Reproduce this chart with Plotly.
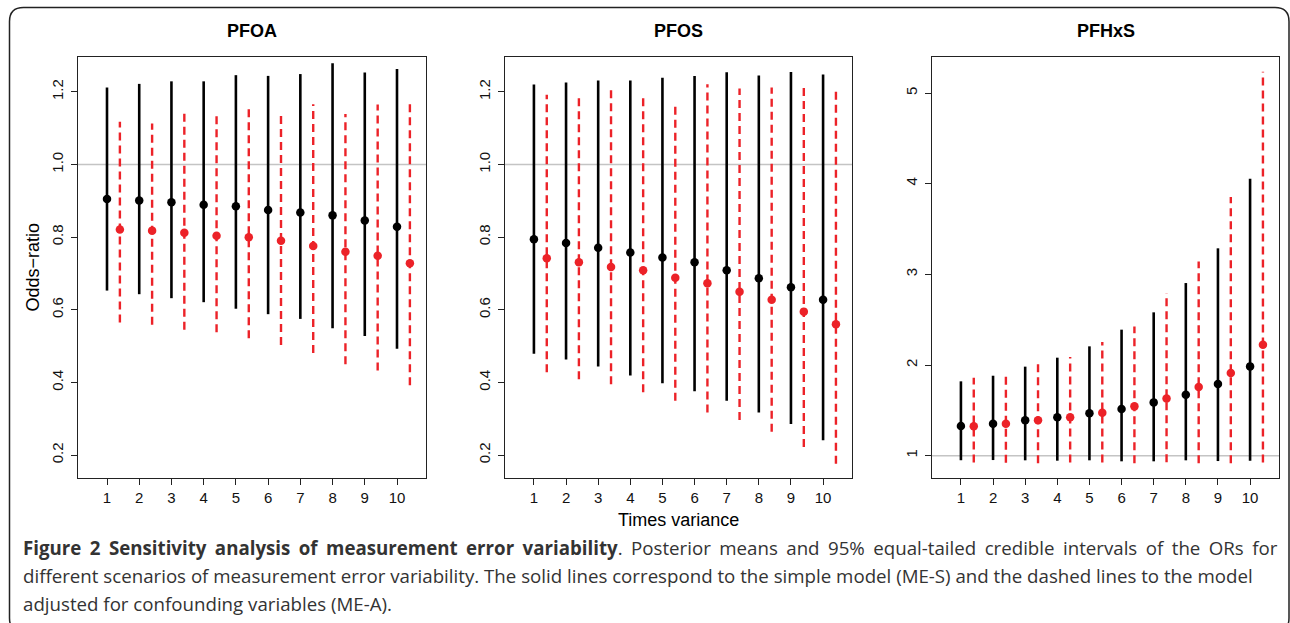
import plotly.graph_objects as go

# ---------------- data ----------------
times_variance = [1, 2, 3, 4, 5, 6, 7, 8, 9, 10]
panel_titles = ["PFOA", "PFOS", "PFHxS"]

# PFOA
pfoa_s_mean = [0.905, 0.901, 0.896, 0.889, 0.885, 0.875, 0.868, 0.860, 0.846, 0.829]
pfoa_s_low = [0.653, 0.643, 0.632, 0.621, 0.603, 0.588, 0.575, 0.549, 0.528, 0.493]
pfoa_s_high = [1.212, 1.222, 1.229, 1.229, 1.246, 1.244, 1.249, 1.279, 1.253, 1.263]
pfoa_a_mean = [0.821, 0.818, 0.812, 0.804, 0.800, 0.790, 0.776, 0.760, 0.749, 0.728]
pfoa_a_low = [0.565, 0.559, 0.545, 0.538, 0.522, 0.503, 0.481, 0.450, 0.433, 0.392]
pfoa_a_high = [1.118, 1.113, 1.142, 1.135, 1.161, 1.146, 1.166, 1.139, 1.165, 1.167]

# PFOS
pfos_s_mean = [0.794, 0.784, 0.771, 0.758, 0.744, 0.731, 0.709, 0.687, 0.662, 0.628]
pfos_s_low = [0.479, 0.463, 0.444, 0.419, 0.398, 0.376, 0.350, 0.317, 0.286, 0.241]
pfos_s_high = [1.220, 1.226, 1.231, 1.231, 1.239, 1.244, 1.254, 1.245, 1.255, 1.248]
pfos_a_mean = [0.742, 0.731, 0.718, 0.709, 0.688, 0.673, 0.650, 0.628, 0.595, 0.560]
pfos_a_low = [0.428, 0.409, 0.395, 0.373, 0.350, 0.317, 0.297, 0.264, 0.222, 0.176]
pfos_a_high = [1.192, 1.185, 1.205, 1.195, 1.173, 1.221, 1.209, 1.212, 1.221, 1.212]

# PFHxS
pfhxs_s_mean = [1.327, 1.353, 1.390, 1.423, 1.467, 1.515, 1.588, 1.673, 1.790, 1.985]
pfhxs_s_low = [0.950, 0.952, 0.949, 0.945, 0.949, 0.938, 0.938, 0.949, 0.941, 0.945]
pfhxs_s_high = [1.820, 1.882, 1.982, 2.081, 2.206, 2.390, 2.581, 2.904, 3.287, 4.055]
pfhxs_a_mean = [1.324, 1.353, 1.390, 1.423, 1.474, 1.544, 1.632, 1.757, 1.912, 2.224]
pfhxs_a_low = [0.925, 0.922, 0.918, 0.925, 0.925, 0.918, 0.929, 0.918, 0.918, 0.925]
pfhxs_a_high = [1.860, 1.901, 2.033, 2.088, 2.254, 2.426, 2.794, 3.143, 3.852, 5.235]

or_ticks_small = [0.2, 0.4, 0.6, 0.8, 1.0, 1.2]
or_tick_labels_small = ["0.2", "0.4", "0.6", "0.8", "1.0", "1.2"]
or_ticks_hx = [1, 2, 3, 4, 5]
or_tick_labels_hx = ["1", "2", "3", "4", "5"]

x_label = "Times variance"
y_label = "Odds\u2212ratio"
caption_bold = "Figure 2 Sensitivity analysis of measurement error variability"
caption_lines = [
    ". Posterior means and 95% equal-tailed credible intervals of the ORs for",
    "different scenarios of measurement error variability. The solid lines correspond to the simple model (ME-S) and the dashed lines to the model",
    "adjusted for confounding variables (ME-A).",
]

# ---------------- style / layout constants ----------------
W, H = 1290, 623
OFFSET = 0.4
BLACK = "#000000"
RED = "#EC2228"
AX_FONT = "Liberation Sans, Arial, Helvetica, sans-serif"
CAP_FONT = "Open Sans, Noto Sans, sans-serif"
CAP_SIZE = 18.7
CAP_COLOR = "#333333"

def fx(px):
    return px / W

def fy(py):
    return 1 - py / H

boxes = [(78, 426), (505, 852), (932, 1279)]
box_top, box_bottom = 57, 478
yranges = [[0.137, 1.296], [0.137, 1.296], [0.754, 5.397]]

panels = [
    (pfoa_s_mean, pfoa_s_low, pfoa_s_high, pfoa_a_mean, pfoa_a_low, pfoa_a_high),
    (pfos_s_mean, pfos_s_low, pfos_s_high, pfos_a_mean, pfos_a_low, pfos_a_high),
    (pfhxs_s_mean, pfhxs_s_low, pfhxs_s_high, pfhxs_a_mean, pfhxs_a_low, pfhxs_a_high),
]


def segments(xs, lows, highs):
    sx, sy = [], []
    for x, lo, hi in zip(xs, lows, highs):
        sx += [x, x, None]
        sy += [lo, hi, None]
    return sx, sy


fig = go.Figure()
shapes = []
annotations = []

for k, (sm, sl, sh, am, al, ah) in enumerate(panels):
    xa = "x" if k == 0 else f"x{k+1}"
    ya = "y" if k == 0 else f"y{k+1}"
    xs_a = [t + OFFSET for t in times_variance]

    bx, by = segments(times_variance, sl, sh)
    fig.add_trace(go.Scatter(x=bx, y=by, mode="lines", xaxis=xa, yaxis=ya,
                             line=dict(color=BLACK, width=2.6), hoverinfo="skip", showlegend=False))
    rx, ry = segments(xs_a, al, ah)
    fig.add_trace(go.Scatter(x=rx, y=ry, mode="lines", xaxis=xa, yaxis=ya,
                             line=dict(color=RED, width=2.4, dash="8px,5px"), hoverinfo="skip", showlegend=False))
    fig.add_trace(go.Scatter(x=times_variance, y=sm, mode="markers", xaxis=xa, yaxis=ya,
                             marker=dict(color=BLACK, size=8.5), showlegend=False))
    fig.add_trace(go.Scatter(x=xs_a, y=am, mode="markers", xaxis=xa, yaxis=ya,
                             marker=dict(color=RED, size=8.5), showlegend=False))

    x0, x1 = boxes[k]
    axis_common = dict(showline=True, linecolor="#222222", linewidth=1, mirror=True,
                       ticks="outside", ticklen=6, tickwidth=1, tickcolor="#222222",
                       showgrid=False, zeroline=False,
                       tickfont=dict(family=AX_FONT, size=15, color="#111111"))
    xkey = "xaxis" if k == 0 else f"xaxis{k+1}"
    ykey = "yaxis" if k == 0 else f"yaxis{k+1}"
    fig.layout[xkey] = dict(domain=[fx(x0), fx(x1)], range=[0.1, 10.9], anchor=ya,
                            tickvals=times_variance, ticktext=[str(t) for t in times_variance],
                            **axis_common)
    if k < 2:
        tv, tt = or_ticks_small, or_tick_labels_small
    else:
        tv, tt = or_ticks_hx, or_tick_labels_hx
    fig.layout[ykey] = dict(domain=[fy(box_bottom), fy(box_top)], range=yranges[k], anchor=xa,
                            tickvals=tv, ticktext=tt, tickangle=-90, ticklabelstandoff=2,
                            **axis_common)

    # grey reference line at OR = 1
    shapes.append(dict(type="line", xref=f"{xa} domain", yref=ya, x0=0, x1=1, y0=1, y1=1,
                       line=dict(color="#C4C4C4", width=1.6), layer="below"))

    annotations.append(dict(text=f"<b>{panel_titles[k]}</b>", x=fx((x0 + x1) / 2), y=fy(31),
                            xref="paper", yref="paper", showarrow=False, xanchor="center",
                            yanchor="middle", font=dict(family=AX_FONT, size=18, color="#000000")))

# axis titles
annotations.append(dict(text=x_label, x=fx((505 + 852) / 2), y=fy(520), xref="paper", yref="paper",
                        showarrow=False, xanchor="center", yanchor="middle",
                        font=dict(family=AX_FONT, size=18, color="#000000")))
annotations.append(dict(text=y_label, x=fx(32), y=fy((box_top + box_bottom) / 2), xref="paper",
                        yref="paper", showarrow=False, xanchor="center", yanchor="middle",
                        textangle=-90, font=dict(family=AX_FONT, size=18, color="#000000")))

# caption (first line justified to the full width like the journal layout)
cap_x = 21
cap_y = [547, 575, 603]
line1 = (f"<span style=\"font-weight:bold;word-spacing:3.6px\">{caption_bold}</span>"
         f"<span style=\"word-spacing:3.6px\">{caption_lines[0]}</span>")
annotations.append(dict(text=line1, x=fx(cap_x), y=fy(cap_y[0]),
                        xref="paper", yref="paper", showarrow=False, xanchor="left", yanchor="middle",
                        font=dict(family=CAP_FONT, size=CAP_SIZE, color=CAP_COLOR)))
for i in (1, 2):
    annotations.append(dict(text=caption_lines[i], x=fx(cap_x), y=fy(cap_y[i]),
                            xref="paper", yref="paper", showarrow=False, xanchor="left",
                            yanchor="middle", font=dict(family=CAP_FONT, size=CAP_SIZE, color=CAP_COLOR)))

# outer rounded frame
L, T, R, B, r = 9.5, 7.5, 1289.0, 632.0, 14
path = (f"M {fx(L)},{fy(T + r)} Q {fx(L)},{fy(T)} {fx(L + r)},{fy(T)} "
        f"L {fx(R - r)},{fy(T)} Q {fx(R)},{fy(T)} {fx(R)},{fy(T + r)} "
        f"L {fx(R)},{fy(B - r)} Q {fx(R)},{fy(B)} {fx(R - r)},{fy(B)} "
        f"L {fx(L + r)},{fy(B)} Q {fx(L)},{fy(B)} {fx(L)},{fy(B - r)} Z")
shapes.append(dict(type="path", xref="paper", yref="paper", path=path,
                   line=dict(color="#222222", width=1.5), fillcolor="rgba(0,0,0,0)", layer="above"))

fig.update_layout(width=W, height=H, autosize=False,
                  margin=dict(l=0, r=0, t=0, b=0, pad=0),
                  paper_bgcolor="white", plot_bgcolor="white",
                  shapes=shapes, annotations=annotations, showlegend=False)

fig.write_html("out.html",
               config={"displayModeBar": False, "responsive": False},
               post_script="document.body.style.margin='0px';document.body.style.overflow='hidden';")
